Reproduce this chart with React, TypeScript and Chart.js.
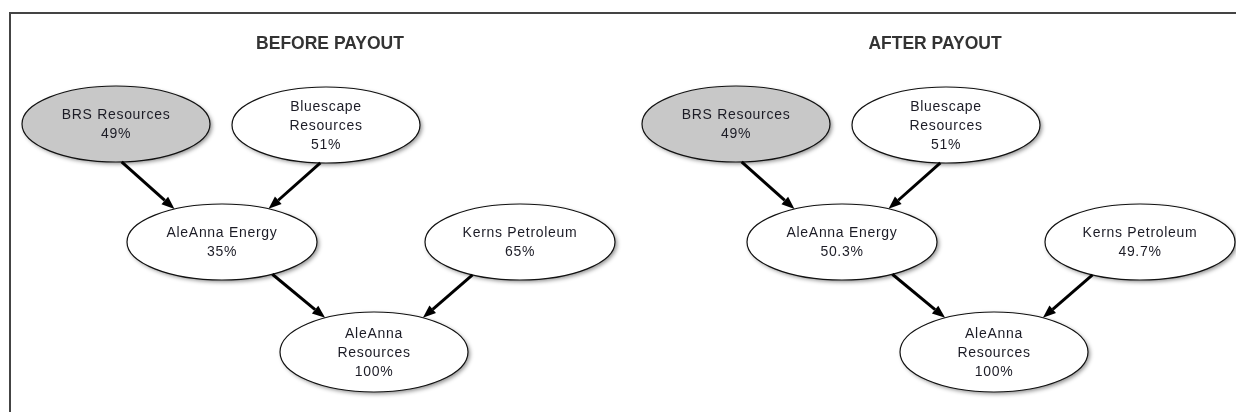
import React, { useEffect, useRef } from "react";
import { Chart, registerables } from "chart.js";

Chart.register(...registerables);

// ---- Data ----
const panelTitles = ["BEFORE PAYOUT", "AFTER PAYOUT"];
const titleX = [330, 935];
const titleY = 44;
const panelOffsetX = [0, 620];

const nodeNames: string[][] = [
  ["BRS Resources"],
  ["Bluescape", "Resources"],
  ["AleAnna Energy"],
  ["Kerns Petroleum"],
  ["AleAnna", "Resources"],
];
const beforePct = ["49%", "51%", "35%", "65%", "100%"];
const afterPct = ["49%", "51%", "50.3%", "49.7%", "100%"];
const panelPct = [beforePct, afterPct];

const nodeX = [116, 326, 222, 520, 374];
const nodeY = [124, 125, 242, 242, 352];
const nodeRx = [94, 94, 95, 95, 94];
const nodeRy = [38, 38, 38, 38, 40];
const nodeFill = ["#c8c8c8", "#ffffff", "#ffffff", "#ffffff", "#ffffff"];

// from, to, anchor on source (fraction of rx), anchor on target (fraction of rx)
const edgeFrom = [0, 1, 2, 3];
const edgeTo = [2, 2, 4, 4];
const edgeStart = [0.06, -0.06, 0.53, -0.5];
const edgeEnd = [-0.5, 0.49, -0.52, 0.52];

const diagramPlugin = {
  id: "diagram",
  afterDatasetsDraw(chart: any) {
    const ctx: CanvasRenderingContext2D = chart.ctx;
    const xs = chart.scales.x;
    const ys = chart.scales.y;
    const px = (v: number) => xs.getPixelForValue(v);
    const py = (v: number) => ys.getPixelForValue(v);

    ctx.save();
    // frame
    ctx.strokeStyle = "#444";
    ctx.lineWidth = 2;
    ctx.beginPath();
    ctx.moveTo(px(10), py(412));
    ctx.lineTo(px(10), py(13));
    ctx.lineTo(px(1236), py(13));
    ctx.stroke();

    // titles
    ctx.fillStyle = "#333";
    ctx.font = "bold 17.5px 'Liberation Sans', Arial, sans-serif";
    ctx.textAlign = "center";
    ctx.textBaseline = "middle";
    panelTitles.forEach((t, i) => ctx.fillText(t, px(titleX[i]), py(titleY)));

    chart.data.datasets.forEach((ds: any, p: number) => {
      const off = panelOffsetX[p];
      const cx = (i: number) => px(nodeX[i] + off);
      const cy = (i: number) => py(nodeY[i]);
      const rx = (i: number) => Math.abs(px(nodeX[i] + off + nodeRx[i]) - px(nodeX[i] + off));
      const ry = (i: number) => Math.abs(py(nodeY[i] + nodeRy[i]) - py(nodeY[i]));

      // ellipses
      nodeX.forEach((_, i) => {
        ctx.save();
        ctx.shadowColor = "rgba(0,0,0,0.45)";
        ctx.shadowBlur = 4;
        ctx.shadowOffsetX = 2;
        ctx.shadowOffsetY = 2;
        ctx.beginPath();
        ctx.ellipse(cx(i), cy(i), rx(i), ry(i), 0, 0, Math.PI * 2);
        ctx.fillStyle = nodeFill[i];
        ctx.fill();
        ctx.restore();
        ctx.beginPath();
        ctx.ellipse(cx(i), cy(i), rx(i), ry(i), 0, 0, Math.PI * 2);
        ctx.strokeStyle = "#111";
        ctx.lineWidth = 1.2;
        ctx.stroke();

        // text
        const lines = [...nodeNames[i], panelPct[p][i]];
        const lh = 19;
        ctx.fillStyle = "#1c1c26";
        ctx.font = "14px 'Liberation Sans', Arial, sans-serif";
        (ctx as any).letterSpacing = "0.7px";
        ctx.textAlign = "center";
        ctx.textBaseline = "middle";
        const y0 = cy(i) - ((lines.length - 1) * lh) / 2 + 1;
        lines.forEach((l, k) => ctx.fillText(l, cx(i), y0 + k * lh));
        (ctx as any).letterSpacing = "0px";
      });

      // arrows
      edgeFrom.forEach((f, e) => {
        const t = edgeTo[e];
        const sx = cx(f) + edgeStart[e] * rx(f);
        const sy = cy(f) + ry(f) * Math.sqrt(1 - edgeStart[e] * edgeStart[e]);
        const ex = cx(t) + edgeEnd[e] * rx(t);
        const ey = cy(t) - ry(t) * Math.sqrt(1 - edgeEnd[e] * edgeEnd[e]);
        const ang = Math.atan2(ey - sy, ex - sx);
        const headLen = 13;
        const headW = 5;
        const bx = ex - headLen * Math.cos(ang);
        const by = ey - headLen * Math.sin(ang);
        ctx.strokeStyle = "#000";
        ctx.lineWidth = 3;
        ctx.beginPath();
        ctx.moveTo(sx, sy);
        ctx.lineTo(bx, by);
        ctx.stroke();
        ctx.fillStyle = "#000";
        ctx.beginPath();
        ctx.moveTo(ex, ey);
        ctx.lineTo(bx + headW * Math.sin(ang), by - headW * Math.cos(ang));
        ctx.lineTo(bx - headW * Math.sin(ang), by + headW * Math.cos(ang));
        ctx.closePath();
        ctx.fill();
      });
    });
    ctx.restore();
  },
};

export default function App() {
  const ref = useRef<HTMLCanvasElement | null>(null);
  useEffect(() => {
    document.body.style.margin = "0";
    if (!ref.current) return;
    const chart = new Chart(ref.current, {
      type: "scatter",
      data: {
        datasets: panelOffsetX.map((off, p) => ({
          label: panelTitles[p],
          data: nodeX.map((x, i) => ({ x: x + off, y: nodeY[i] })),
          pointRadius: 0,
          pointHoverRadius: 0,
        })),
      },
      options: {
        animation: false,
        responsive: true,
        maintainAspectRatio: false,
        layout: { padding: 0 },
        events: [],
        plugins: { legend: { display: false }, tooltip: { enabled: false }, title: { display: false } },
        scales: {
          x: { type: "linear", min: 0, max: 1236, display: false },
          y: { type: "linear", min: 0, max: 412, reverse: true, display: false },
        },
      },
      plugins: [diagramPlugin],
    });
    return () => chart.destroy();
  }, []);
  return (
    <div style={{ width: 1236, height: 412, position: "relative", background: "#fff" }}>
      <canvas ref={ref} />
    </div>
  );
}
